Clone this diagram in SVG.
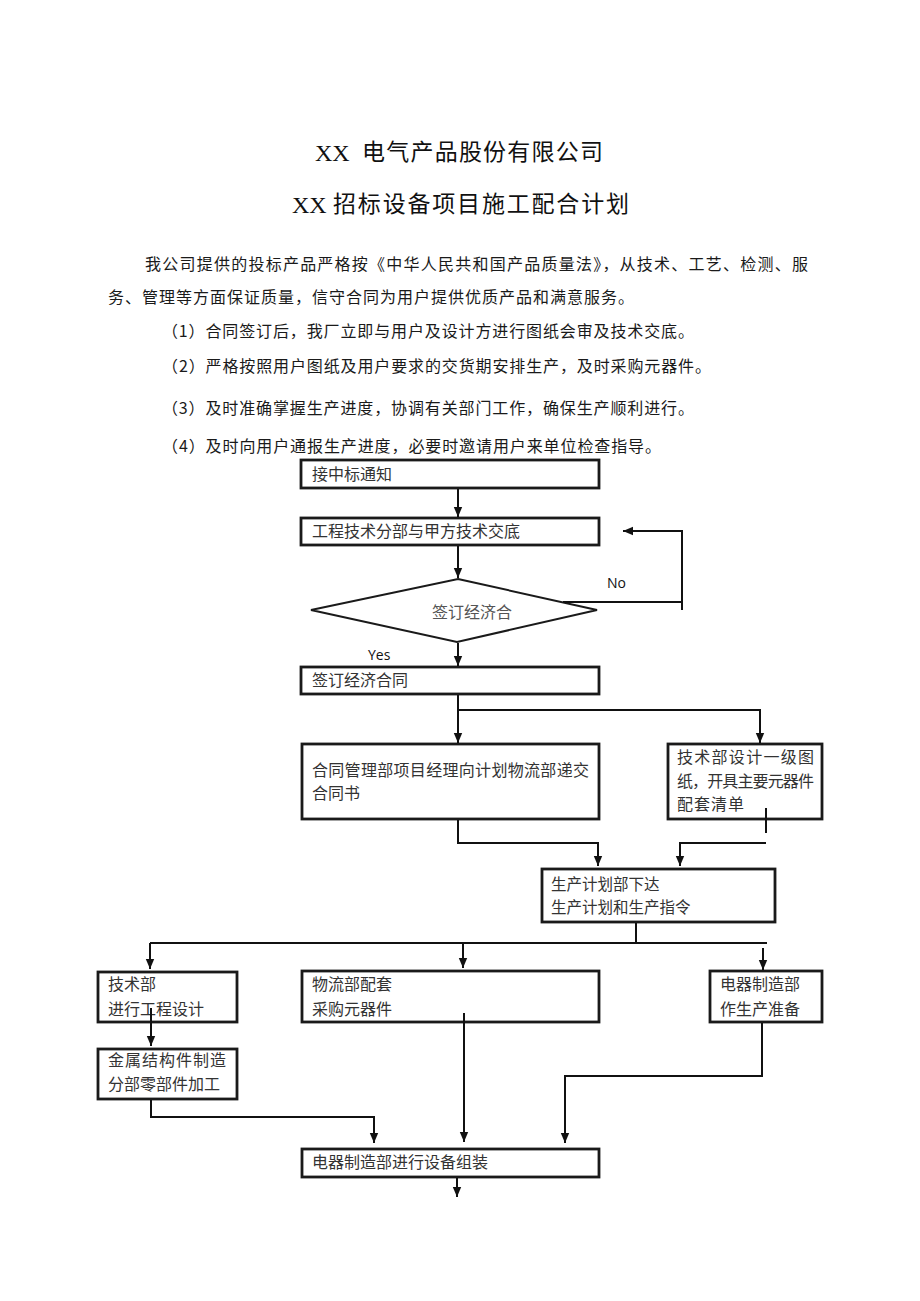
<svg xmlns="http://www.w3.org/2000/svg" width="920" height="1301" viewBox="0 0 920 1301">
<defs>
<marker id="arr" markerUnits="userSpaceOnUse" markerWidth="11" markerHeight="10" refX="10" refY="5" orient="auto">
<path d="M0,0.8 L10,5 L0,9.2 z" fill="#111"/>
</marker>
<style>
.title{font-family:"Noto Sans CJK SC",sans-serif;font-size:23px;fill:#111}
.xx{font-family:"Liberation Serif",serif;font-size:24px;fill:#111}
.p{font-family:"Noto Sans CJK SC",sans-serif;font-size:16px;fill:#1a1a1a}
.box{fill:#fff;stroke:#1a1a1a;stroke-width:2.8}
.t{font-family:"Noto Sans CJK SC",sans-serif;font-size:16px;fill:#333}
.lbl{font-family:"Open Sans","Liberation Sans",sans-serif;font-size:14px;fill:#111}
.c{fill:none;stroke:#111;stroke-width:2}
</style>
</defs>
<rect width="920" height="1301" fill="#fff"/>

<g id="title">
<text class="xx" x="315" y="161">XX</text>
<text class="title" x="362" y="160" textLength="241" lengthAdjust="spacing">电气产品股份有限公司</text>
<text class="xx" x="292" y="213">XX</text>
<text class="title" x="333" y="212" textLength="296" lengthAdjust="spacing">招标设备项目施工配合计划</text>
</g>

<g id="intro">
<text class="p" x="145" y="270" textLength="663" lengthAdjust="spacing">我公司提供的投标产品严格按《中华人民共和国产品质量法》，从技术、工艺、检测、服</text>
<text class="p" x="108" y="303" textLength="526" lengthAdjust="spacing">务、管理等方面保证质量，信守合同为用户提供优质产品和满意服务。</text>
<text class="p" x="162" y="337" textLength="532" lengthAdjust="spacing">（1）合同签订后，我厂立即与用户及设计方进行图纸会审及技术交底。</text>
<text class="p" x="162" y="372" textLength="549" lengthAdjust="spacing">（2）严格按照用户图纸及用户要求的交货期安排生产，及时采购元器件。</text>
<text class="p" x="162" y="414" textLength="532" lengthAdjust="spacing">（3）及时准确掌握生产进度，协调有关部门工作，确保生产顺利进行。</text>
<text class="p" x="162" y="452" textLength="499" lengthAdjust="spacing">（4）及时向用户通报生产进度，必要时邀请用户来单位检查指导。</text>
</g>

<g id="n1"><rect class="box" x="301" y="460" width="298" height="28"/><text class="t" x="312" y="480">接中标通知</text></g>
<g id="n2"><rect class="box" x="301" y="518" width="298" height="27"/><text class="t" x="312" y="537">工程技术分部与甲方技术交底</text></g>
<g id="d1"><polygon points="458,579 597,610 457,642 311,610" fill="#fff" stroke="#1a1a1a" stroke-width="2"/><text class="t" x="432" y="618" style="fill:#555">签订经济合</text></g>
<g id="lblNo"><text class="lbl" x="607" y="588">No</text></g>
<g id="lblYes"><text class="lbl" x="368" y="660">Yes</text></g>
<g id="n3"><rect class="box" x="301" y="667" width="298" height="27"/><text class="t" x="312" y="686">签订经济合同</text></g>
<g id="n4"><rect class="box" x="302" y="744" width="297" height="75"/><text class="t" x="312" y="776" textLength="277" lengthAdjust="spacing">合同管理部项目经理向计划物流部递交</text><text class="t" x="312" y="799">合同书</text></g>
<g id="n5"><rect class="box" x="668" y="744" width="154" height="75"/><text class="t" x="677" y="763" textLength="137" lengthAdjust="spacing">技术部设计一级图</text><text class="t" x="677" y="787" textLength="137" lengthAdjust="spacing">纸，开具主要元器件</text><text class="t" x="677" y="810" letter-spacing="1">配套清单</text></g>
<g id="n6"><rect class="box" x="542" y="869" width="233" height="53"/><text class="t" x="551" y="890" style="font-size:15.5px">生产计划部下达</text><text class="t" x="551" y="913" style="font-size:15.5px">生产计划和生产指令</text></g>
<g id="n7"><rect class="box" x="98" y="972" width="139" height="50"/><text class="t" x="108" y="990">技术部</text><text class="t" x="108" y="1015">进行工程设计</text></g>
<g id="n8"><rect class="box" x="302" y="971" width="297" height="51"/><text class="t" x="312" y="990">物流部配套</text><text class="t" x="312" y="1015">采购元器件</text></g>
<g id="n9"><rect class="box" x="710" y="971" width="112" height="51"/><text class="t" x="720" y="990">电器制造部</text><text class="t" x="720" y="1015">作生产准备</text></g>
<g id="n10"><rect class="box" x="98" y="1049" width="139" height="50"/><text class="t" x="108" y="1066" letter-spacing="1">金属结构件制造</text><text class="t" x="108" y="1090">分部零部件加工</text></g>
<g id="n11"><rect class="box" x="302" y="1149" width="297" height="28"/><text class="t" x="312" y="1168">电器制造部进行设备组装</text></g>

<g id="connectors">
<path class="c" d="M458,489 V517" marker-end="url(#arr)"/>
<path class="c" d="M458,546 V578" marker-end="url(#arr)"/>
<path class="c" d="M563,602 H682"/>
<path class="c" d="M682,610 V531 H623" marker-end="url(#arr)"/>
<path class="c" d="M458,643 V666" marker-end="url(#arr)"/>
<path class="c" d="M458,695 V743" marker-end="url(#arr)"/>
<path class="c" d="M458,710 H760 V743" marker-end="url(#arr)"/>
<path class="c" d="M458,820 V843 H598 V866" marker-end="url(#arr)"/>
<path class="c" d="M766,808 V833"/>
<path class="c" d="M766,843 H680 V866" marker-end="url(#arr)"/>
<path class="c" d="M636,923 V943"/>
<path class="c" d="M150,943 H767"/>
<path class="c" d="M150,943 V969" marker-end="url(#arr)"/>
<path class="c" d="M463,943 V968" marker-end="url(#arr)"/>
<path class="c" d="M763,948 V970" marker-end="url(#arr)"/>
<path class="c" d="M151,1008 V1046" marker-end="url(#arr)"/>
<path class="c" d="M151,1100 V1117 H374 V1143" marker-end="url(#arr)"/>
<path class="c" d="M464,1013 V1142" marker-end="url(#arr)"/>
<path class="c" d="M762,1023 V1076 H565 V1143" marker-end="url(#arr)"/>
<path class="c" d="M457,1178 V1197" marker-end="url(#arr)"/>
</g>
</svg>
